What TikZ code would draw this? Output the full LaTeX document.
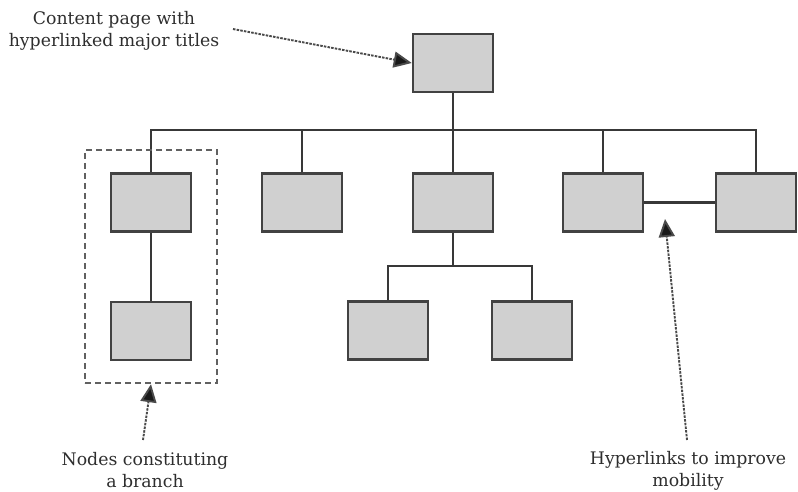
\documentclass[tikz,border=0pt]{standalone}
\usepackage{fontspec}
\setmainfont{DejaVu Serif}
\usetikzlibrary{arrows.meta,fit}
\definecolor{boxfill}{HTML}{D0D0D0}
\definecolor{boxline}{HTML}{424242}
\definecolor{wire}{HTML}{383838}
\definecolor{note}{HTML}{4A4A4A}
\tikzset{
  page/.style={draw=boxline, fill=boxfill, line width=2.6pt, rectangle,
    minimum width=80pt, minimum height=58pt, inner sep=0pt},
  link/.style={draw=wire, line width=2.1pt},
  callout/.style={draw=note, line width=1.9pt, dash pattern=on 2.5pt off 1.2pt,
    -{Triangle[length=18pt,width=16pt,fill=black!90]}},
  label/.style={font=\fontsize{17.3}{22}\selectfont, text=black!82, align=center, inner sep=0pt},
  branchbox/.style={draw=black!62, line width=2.4pt, dash pattern=on 6pt off 4pt, inner sep=0pt}
}
\begin{document}
\begin{tikzpicture}[x=1pt,y=-1pt]
\useasboundingbox (0,0) rectangle (798,492);

% pages of the hierarchy
\node[page] (top) at (453,63) {};
\node[page] (b1) at (151,202.5) {};
\node[page] (b2) at (302,202.5) {};
\node[page] (b3) at (453,202.5) {};
\node[page] (b4) at (603,202.5) {};
\node[page] (b5) at (756,202.5) {};
\node[page] (b6) at (151,331) {};
\node[page] (c1) at (388,330.5) {};
\node[page] (c2) at (532,330.5) {};

% tree links
\coordinate (bus) at (453,130);
\coordinate (sub) at (453,266);
\draw[link] (top.south) -- (bus);
\draw[link] (b1.north) |- (bus) -| (b5.north);
\draw[link] (b2.north) -- (b2.north |- bus);
\draw[link] (b3.north) -- (bus);
\draw[link] (b4.north) -- (b4.north |- bus);
\draw[link] (b1.south) -- (b6.north);
\draw[link] (b3.south) -- (sub);
\draw[link] (c1.north) |- (sub) -| (c2.north);
\draw[link] (b4.east) -- (b5.west);

% branch frame
\node[branchbox, fit={(85,150) (217,383)}] (branch) {};

% annotations
\node[label] (contentlbl) at (114,31) {Content page with\\hyperlinked major titles};
\node[label] (branchlbl) at (145,470) {Nodes constituting\\a branch};
\node[label] (mobilitylbl) at (688,471) {Hyperlinks to improve\\mobility};

\coordinate (contenttail) at (233,29);
\coordinate (branchtail) at (143,440);
\coordinate (mobilitytail) at (687,440);
\coordinate (mobilitytip) at (665,219);

\draw[callout] (contenttail) -- (top.west);
\draw[callout] (branchtail) -- (branch.south);
\draw[callout] (mobilitytail) -- (mobilitytip);
\end{tikzpicture}
\end{document}
